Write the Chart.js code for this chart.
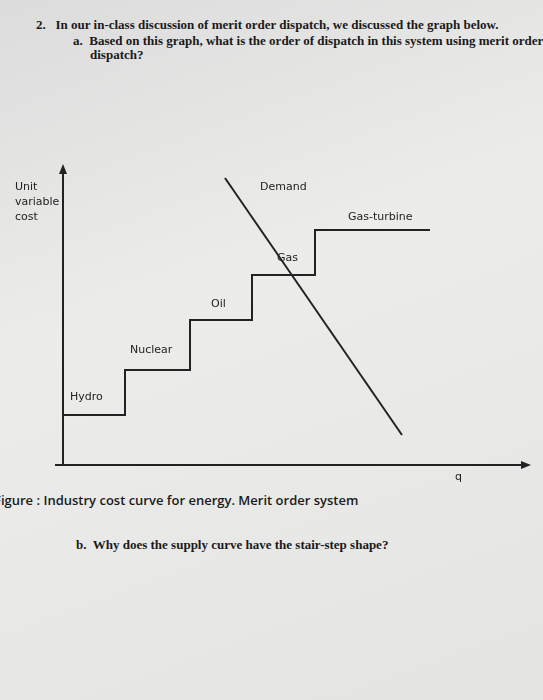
<!DOCTYPE html>
<html><head><meta charset="utf-8">
<script src="https://cdn.jsdelivr.net/npm/chart.js@4"></script>
<style>
body{margin:0;width:543px;height:700px;overflow:hidden;background:linear-gradient(160deg,#dcdcdc,#ececea 40%,#e4e4e2);position:relative;font-family:"Liberation Serif",serif;color:#1a1a1a}
.t{position:absolute;font-size:13px;white-space:nowrap;font-weight:600}
canvas{position:absolute;left:0;top:0}
</style></head><body>
<div class="t" style="left:36px;top:17px">2.&nbsp;&nbsp; In our in-class discussion of merit order dispatch, we discussed the graph below.</div>
<div class="t" style="left:73px;top:33px">a.&nbsp; Based on this graph, what is the order of dispatch in this system using merit order</div>
<div class="t" style="left:90px;top:47px">dispatch?</div>
<div class="t" style="left:-6px;top:491px;font-family:'Open Sans',sans-serif;font-size:13px">Figure : Industry cost curve for energy. Merit order system</div>
<div class="t" style="left:76px;top:537px">b.&nbsp; Why does the supply curve have the stair-step shape?</div>
<canvas id="c" width="543" height="700"></canvas>
<script>
// supply staircase (x = quantity, y = unit variable cost)
const supplyX = [0, 62, 62, 127, 127, 189, 189, 252, 252, 367];
const supplyY = [50, 50, 95, 95, 145, 145, 190, 190, 235, 235];
const demandX = [162, 339];
const demandY = [287, 30];
const stepLabels = ['Hydro', 'Nuclear', 'Oil', 'Gas', 'Gas-turbine', 'Demand'];
const labelX = [7, 67, 148, 214, 285, 197];
const labelY = [65, 112, 158, 204, 245, 275];

const overlay = {
  id: 'overlay',
  afterDraw(chart) {
    const c = chart.ctx, a = chart.chartArea;
    const xs = chart.scales.x, ys = chart.scales.y;
    c.save();
    c.strokeStyle = '#222'; c.fillStyle = '#222'; c.lineWidth = 2;
    c.beginPath(); c.moveTo(a.left, a.bottom); c.lineTo(a.left, a.top - 2);
    c.moveTo(a.left - 8, a.bottom); c.lineTo(a.right, a.bottom); c.stroke();
    c.beginPath(); c.moveTo(a.left, a.top - 8); c.lineTo(a.left - 4, a.top + 2); c.lineTo(a.left + 4, a.top + 2); c.fill();
    c.beginPath(); c.moveTo(a.right + 6, a.bottom); c.lineTo(a.right - 4, a.bottom - 4); c.lineTo(a.right - 4, a.bottom + 4); c.fill();
    c.font = '11px "DejaVu Sans", sans-serif';
    stepLabels.forEach((l, i) => c.fillText(l, xs.getPixelForValue(labelX[i]), ys.getPixelForValue(labelY[i])));
    c.fillText('Unit', 15, 190); c.fillText('variable', 15, 205); c.fillText('cost', 15, 220);
    c.fillText('q', 455, 480);
    c.restore();
  }
};

new Chart(document.getElementById('c'), {
  type: 'scatter',
  data: { datasets: [
    { data: supplyX.map((x, i) => ({x, y: supplyY[i]})), showLine: true, borderColor: '#222', borderWidth: 2, pointRadius: 0 },
    { data: demandX.map((x, i) => ({x, y: demandY[i]})), showLine: true, borderColor: '#222', borderWidth: 2, pointRadius: 0 }
  ]},
  options: {
    responsive: false, animation: false,
    layout: { padding: { left: 63, right: 18, top: 172, bottom: 235 } },
    plugins: { legend: { display: false }, tooltip: { enabled: false } },
    scales: {
      x: { type: 'linear', min: 0, max: 462, display: false },
      y: { type: 'linear', min: 0, max: 293, display: false }
    }
  },
  plugins: [overlay]
});
</script>
</body></html>
